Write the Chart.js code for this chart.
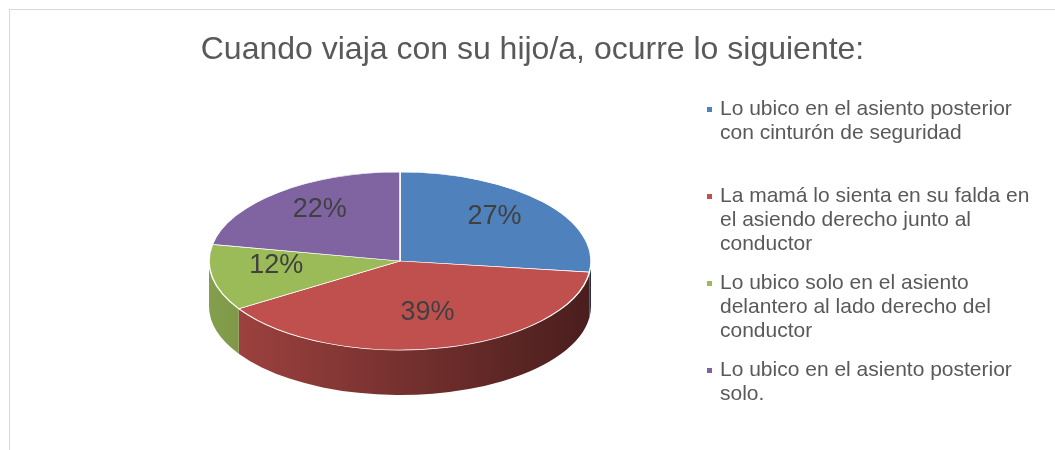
<!DOCTYPE html>
<html>
<head>
<meta charset="utf-8">
<script src="https://cdn.jsdelivr.net/npm/chart.js@4.4.1/dist/chart.umd.min.js"></script>
<style>
  html, body { margin: 0; padding: 0; background: #fff; }
  #wrap { position: relative; width: 1055px; height: 450px; overflow: hidden; }
  #frame { position: absolute; left: 9px; top: 9px; width: 1100px; height: 500px; border: 1px solid #d9d9d9; box-sizing: border-box; }
  canvas { position: absolute; left: 0; top: 0; }
</style>
</head>
<body>
<div id="wrap"><div id="frame"></div><canvas id="pie" width="1055" height="450"></canvas></div>
<script>
// data
const TITLE = "Cuando viaja con su hijo/a, ocurre lo siguiente:";
const labels = [
  "Lo ubico en el asiento posterior con cinturón de seguridad",
  "La mamá lo sienta en su falda en el asiendo derecho junto al conductor",
  "Lo ubico solo en el asiento delantero al lado derecho del conductor",
  "Lo ubico en el asiento posterior solo.",
];
const values = [27, 39, 12, 22];
const colors = ["#4f81bd", "#c0504d", "#9bbb59", "#8064a2"];

// fake 3D: squished pie + extruded front wall
const PIE = { x: 400, y: 261, rx: 191, ry: 89, depth: 45 };
const FONT = "'Liberation Sans', Arial, sans-serif";
const TEXT = "#595959";

const shade = (hex, f) => {
  const n = parseInt(hex.slice(1), 16);
  const c = [(n >> 16) & 255, (n >> 8) & 255, n & 255].map((v) => Math.round(v * f));
  return `rgb(${c.join(",")})`;
};

const pie3d = {
  id: "pie3d",
  beforeDatasetsDraw(chart) {
    const ctx = chart.ctx;
    const arcs = chart.getDatasetMeta(0).data;
    arcs.forEach((a, i) => {
      const s = Math.max(a.startAngle, 0), e = Math.min(a.endAngle, Math.PI);
      if (e <= s) return;
      ctx.beginPath();
      ctx.ellipse(PIE.x, PIE.y, PIE.rx, PIE.ry, 0, s, e);
      ctx.ellipse(PIE.x, PIE.y + PIE.depth, PIE.rx, PIE.ry, 0, e, s, true);
      ctx.closePath();
      const g = ctx.createLinearGradient(PIE.x - PIE.rx, 0, PIE.x + PIE.rx, 0);
      g.addColorStop(0, shade(colors[i], 0.85));
      g.addColorStop(1, shade(colors[i], 0.38));
      ctx.fillStyle = g;
      ctx.fill();
    });
    const a0 = arcs[0];
    ctx.save();
    ctx.translate(PIE.x, PIE.y);
    ctx.scale(1, PIE.ry / PIE.rx);
    ctx.translate(-a0.x, -a0.y);
  },
  afterDatasetsDraw(chart) {
    const ctx = chart.ctx;
    ctx.restore();
    const k = PIE.ry / PIE.rx;
    ctx.save();
    ctx.font = `27px ${FONT}`;
    ctx.fillStyle = "#404040";
    ctx.textAlign = "center";
    ctx.textBaseline = "middle";
    chart.getDatasetMeta(0).data.forEach((a, i) => {
      const mid = (a.startAngle + a.endAngle) / 2;
      const r = PIE.rx * 0.66;
      ctx.fillText(values[i] + "%", PIE.x + Math.cos(mid) * r, PIE.y - 6 + Math.sin(mid) * r * k);
    });
    ctx.restore();
  },
};

// legend with wrapped labels on the right
const wrapText = (ctx, t, maxW) => {
  const out = [];
  let line = "";
  t.split(" ").forEach((w) => {
    const test = line ? line + " " + w : w;
    if (ctx.measureText(test).width > maxW && line) { out.push(line); line = w; } else line = test;
  });
  out.push(line);
  return out;
};

const sideLegend = {
  id: "sideLegend",
  afterDraw(chart) {
    const ctx = chart.ctx;
    ctx.save();
    ctx.font = `21px ${FONT}`;
    ctx.textBaseline = "middle";
    labels.forEach((l, i) => {
      const y0 = 109 + i * 87;
      ctx.fillStyle = colors[i];
      ctx.fillRect(707, y0 - 2, 5, 5);
      ctx.fillStyle = TEXT;
      wrapText(ctx, l, 318).forEach((ln, j) => ctx.fillText(ln, 720, y0 + j * 24));
    });
    ctx.restore();
  },
};

new Chart(document.getElementById("pie"), {
  type: "pie",
  data: {
    labels,
    datasets: [{ data: values, backgroundColor: colors, borderColor: "#fff", borderWidth: 1.5, radius: PIE.rx }],
  },
  options: {
    responsive: false,
    animation: false,
    events: [],
    layout: { padding: { left: 10 } },
    plugins: {
      legend: { display: false },
      tooltip: { enabled: false },
      title: {
        display: true,
        text: TITLE,
        color: TEXT,
        font: { family: FONT, size: 32, weight: "normal" },
        padding: { top: 31, bottom: 10 },
      },
    },
  },
  plugins: [pie3d, sideLegend],
});
</script>
</body>
</html>
